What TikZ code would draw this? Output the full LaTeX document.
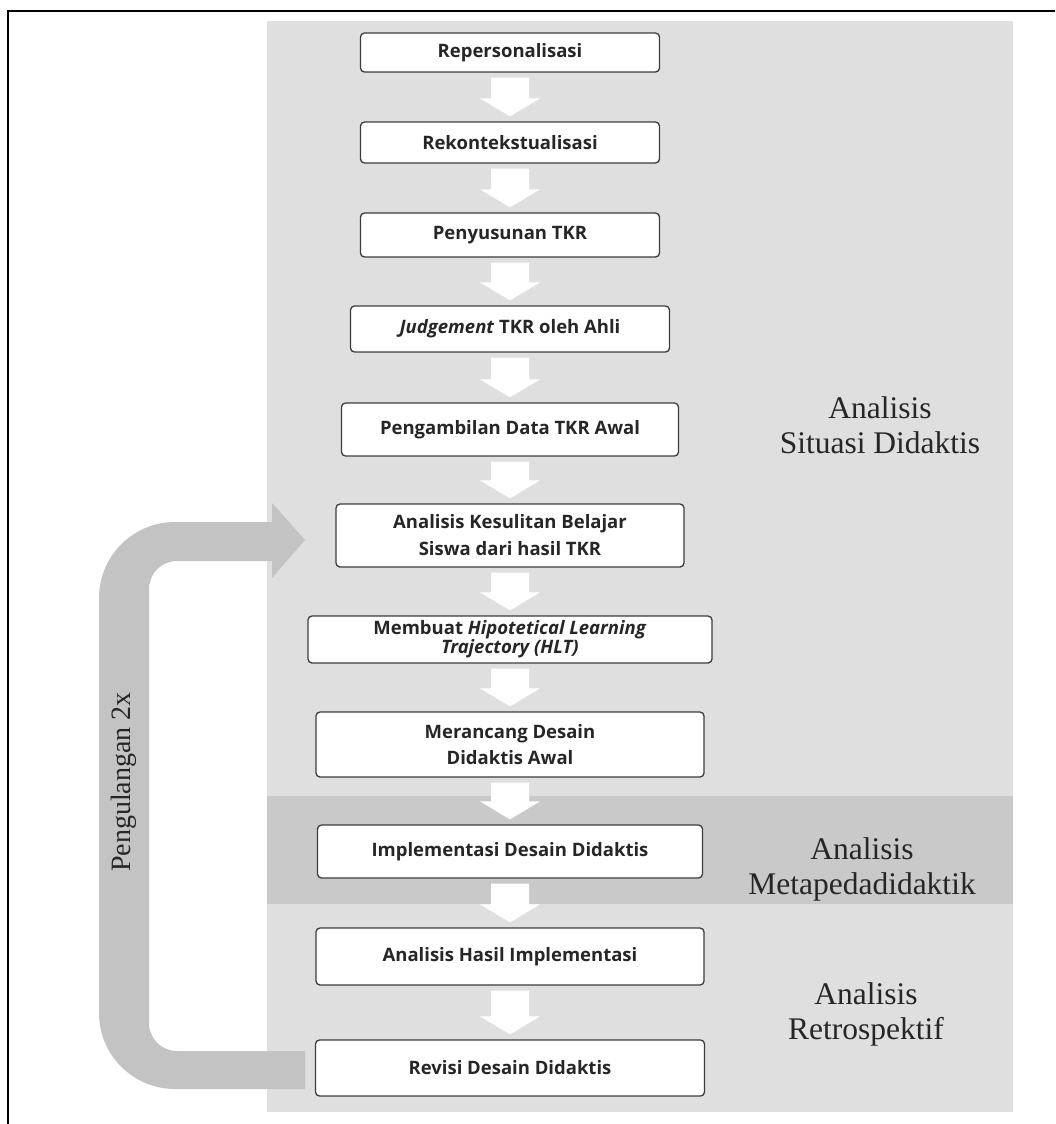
\documentclass[tikz,border=0pt]{standalone}
\usepackage{fontspec}
\setmainfont{Liberation Serif}
\newfontfamily\boxfont{Open Sans}
\usetikzlibrary{calc}
\definecolor{panelgray}{HTML}{DFDFDF}
\definecolor{bandgray}{HTML}{C9C9C9}
\definecolor{loopgray}{HTML}{C3C3C3}
\definecolor{boxline}{HTML}{3C3C3C}
\definecolor{boxtext}{HTML}{262626}
\newcommand\blockarrow[2]{%
  \fill[white] ($(#1.south)+(-19,5)$) -- ($(#2.north)+(-19,-23)$) -- ($(#2.north)+(-30,-23)$)
   -- ($(#2.north)+(0,-5)$) -- ($(#2.north)+(30,-23)$) -- ($(#2.north)+(19,-23)$)
   -- ($(#1.south)+(19,5)$) -- cycle;}
\begin{document}
\begin{tikzpicture}[x=1pt,y=-1pt,
  stepbox/.style={draw=boxline, line width=1.3pt, rounded corners=4pt, fill=white,
    align=center, text=boxtext, inner sep=0pt,
    font=\boxfont\bfseries\fontsize{18.5}{21}\selectfont},
  sidelabel/.style={align=center, text=black!85, font=\fontsize{31.5}{35}\selectfont}]
\useasboundingbox (0,0) rectangle (1055,1124);
% panel and band
\fill[panelgray] (267,21) rectangle (1013,1112);
\fill[bandgray] (267,796) rectangle (1013,904);
% frame
\draw[line width=2pt] (8,1124) -- (8,11) -- (1055,11);
% loop arrow
\fill[loopgray] (305,1089) -- (175,1089) .. controls (133,1089) and (99,1055) .. (99,1013)
 -- (99,598) .. controls (99,556) and (133,522) .. (175,522)
 -- (272,522) -- (272,503) -- (305,540) -- (272,578) -- (272,561)
 -- (177,561) .. controls (161.5,561) and (149,573.5) .. (149,589)
 -- (149,1023) .. controls (149,1038.5) and (161.5,1051) .. (177,1051)
 -- (305,1051) -- cycle;
\node[rotate=90, font=\fontsize{28}{30}\selectfont, text=black!85] (rep) at (124,782) {Pengulangan 2x};
% boxes
\node[stepbox, minimum width=299, minimum height=39] (b1) at (510,52.5) {Repersonalisasi};
\node[stepbox, minimum width=299, minimum height=41] (b2) at (510,142.5) {Rekontekstualisasi};
\node[stepbox, minimum width=299, minimum height=44] (b3) at (510,235) {Penyusunan TKR};
\node[stepbox, minimum width=319, minimum height=46] (b4) at (510,329) {\textit{Judgement} TKR oleh Ahli};
\node[stepbox, minimum width=337, minimum height=53] (b5) at (510,429.5) {Pengambilan Data TKR Awal};
\node[stepbox, minimum width=348, minimum height=63, font=\boxfont\bfseries\fontsize{18.5}{27}\selectfont] (b6) at (510,535.5) {Analisis Kesulitan Belajar\\Siswa dari hasil TKR};
\node[stepbox, minimum width=404, minimum height=47, font=\boxfont\bfseries\fontsize{18.5}{19}\selectfont] (b7) at (510,639.5) {Membuat \textit{Hipotetical Learning}\\\textit{Trajectory (HLT)}};
\node[stepbox, minimum width=388, minimum height=65, font=\boxfont\bfseries\fontsize{18.5}{26}\selectfont] (b8) at (510,744.5) {Merancang Desain\\Didaktis Awal};
\node[stepbox, minimum width=385, minimum height=53] (b9) at (510,851.5) {Implementasi Desain Didaktis};
\node[stepbox, minimum width=388, minimum height=57] (b10) at (510,956.5) {Analisis Hasil Implementasi};
\node[stepbox, minimum width=389, minimum height=56] (b11) at (510,1068) {Revisi Desain Didaktis};
% arrows
\blockarrow{b1}{b2}
\blockarrow{b2}{b3}
\blockarrow{b3}{b4}
\blockarrow{b4}{b5}
\blockarrow{b5}{b6}
\blockarrow{b6}{b7}
\blockarrow{b7}{b8}
\blockarrow{b8}{b9}
\blockarrow{b9}{b10}
\blockarrow{b10}{b11}
% side labels
\node[sidelabel] (l1) at (880,425) {Analisis\\Situasi Didaktis};
\node[sidelabel] (l2) at (862,869) {Analisis\\Metapedadidaktik};
\node[sidelabel] (l3) at (866,1014) {Analisis\\Retrospektif};
\end{tikzpicture}
\end{document}
